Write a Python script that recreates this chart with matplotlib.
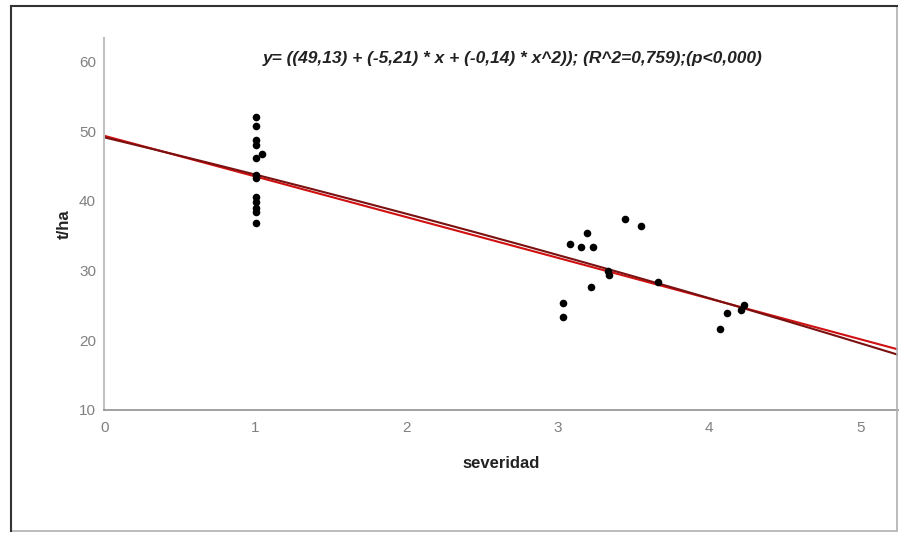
import numpy as np
import matplotlib
matplotlib.use("Agg")
import matplotlib.pyplot as plt
from matplotlib.patches import Rectangle

plt.rcParams['font.family'] = ['Liberation Sans', 'DejaVu Sans']

# severidad vs t/ha
severidad = [1, 1, 1, 1, 1, 1, 1, 1, 1, 1, 1, 1, 1.04,
             3.03, 3.03, 3.08, 3.15, 3.19, 3.215, 3.23, 3.33, 3.34,
             3.44, 3.55, 3.66, 4.07, 4.12, 4.21, 4.23]
tha = [52.1, 50.7, 48.8, 48.1, 46.2, 43.8, 43.3, 40.6, 39.9, 39.0, 38.4, 36.9, 46.8,
       25.4, 23.3, 33.8, 33.4, 35.4, 27.7, 33.4, 29.9, 29.4,
       37.4, 36.4, 28.3, 21.6, 23.9, 24.3, 25.1]

# fit lines: quadratic as printed on the chart, linear
quad_coef = [49.13, -5.21, -0.14]
lin_coef = [49.35, -5.84]
eq_text = "y= ((49,13) + (-5,21) * x + (-0,14) * x^2)); (R^2=0,759);(p<0,000)"

x_ticks = [0, 1, 2, 3, 4, 5]
y_ticks = [10, 20, 30, 40, 50, 60]

fig = plt.figure(figsize=(9, 5.33), dpi=100)
ax = fig.add_axes([0.116, 0.2308, 0.882, 0.698])

xs = np.linspace(0, 5.3, 200)
ax.plot(xs, lin_coef[0] + lin_coef[1] * xs, color='#d01010', lw=1.5, zorder=2)
ax.plot(xs, quad_coef[0] + quad_coef[1] * xs + quad_coef[2] * xs ** 2,
        color='#7a1010', lw=1.5, zorder=2)
ax.scatter(severidad, tha, s=30, color='black', zorder=3, linewidths=0)

ax.set_xlim(0, 5.25)
ax.set_ylim(10, 63.4)
ax.set_xticks(x_ticks)
ax.set_yticks(y_ticks)
ax.tick_params(length=0, labelsize=11, labelcolor='#808080')
ax.tick_params(axis='x', pad=8)
ax.tick_params(axis='y', pad=6)
for s in ['top', 'right']:
    ax.spines[s].set_visible(False)
ax.spines['left'].set_color('#c0c0c0')
ax.spines['left'].set_linewidth(1.5)
ax.spines['bottom'].set_color('#909090')
ax.spines['bottom'].set_linewidth(1.2)

ax.set_xlabel('severidad', fontsize=12, fontweight='bold', color='#222222', labelpad=15)
ax.set_ylabel('t/ha', fontsize=12, fontweight='bold', color='#222222', labelpad=5)

fig.text(513 / 900, 1 - 59 / 533, eq_text, ha='center', va='center',
         fontsize=12.5, fontweight='bold', fontstyle='italic', color='#222222')

# outer frame
fig.add_artist(Rectangle((11 / 900, 2 / 533), 886 / 900, 525 / 533,
                         transform=fig.transFigure, fill=False,
                         edgecolor='#b0b0b0', lw=1.2))
fig.add_artist(plt.Line2D([11 / 900, 11 / 900], [2 / 533, 527 / 533],
                          transform=fig.transFigure, color='#333333', lw=1.5))
fig.add_artist(plt.Line2D([11 / 900, 897 / 900], [527 / 533, 527 / 533],
                          transform=fig.transFigure, color='#333333', lw=1.5))

fig.savefig('out.png', dpi=100)
